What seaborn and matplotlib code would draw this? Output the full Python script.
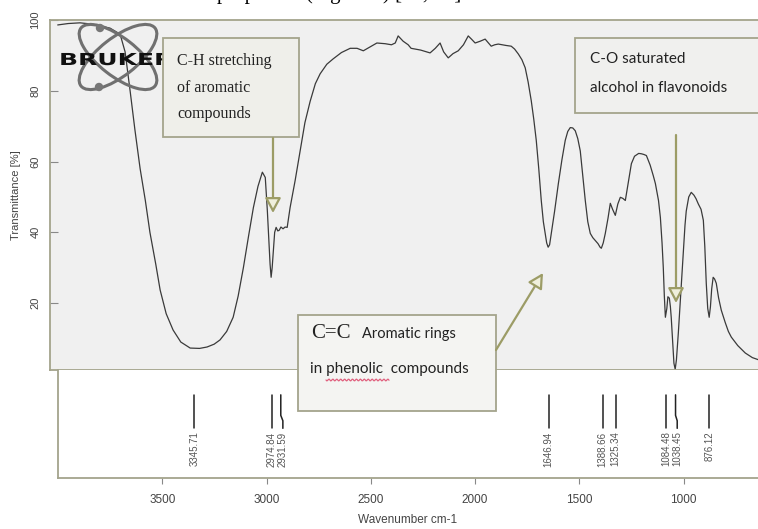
import numpy as np
import pandas as pd
import matplotlib
matplotlib.use('Agg')
import matplotlib.pyplot as plt
import matplotlib.transforms as mtransforms
from matplotlib.patches import Rectangle, Ellipse, Circle, PathPatch
from matplotlib.textpath import TextPath
from matplotlib.font_manager import FontProperties
import seaborn as sns

# FTIR spectrum (wavenumber cm-1, transmittance %)
wavenumber = [4000, 3950, 3893, 3830, 3749, 3701, 3677, 3653, 3630, 3605, 3580, 3558, 3530, 3509,
              3480, 3447, 3410, 3365, 3320, 3284, 3250, 3222, 3190, 3159, 3135, 3110, 3085, 3062,
              3040, 3019, 3005, 2995, 2990, 2982, 2977, 2972, 2967, 2960, 2953, 2945, 2938, 2930,
              2920, 2910, 2900, 2886, 2862, 2838, 2815, 2790, 2765, 2742, 2710, 2680, 2640, 2598,
              2565, 2535, 2500, 2470, 2430, 2400, 2382, 2368, 2344, 2320, 2306, 2260, 2215, 2190,
              2167, 2150, 2128, 2105, 2080, 2055, 2032, 2015, 1999, 1975, 1951, 1935, 1922, 1905,
              1888, 1850, 1826, 1810, 1792, 1775, 1759, 1745, 1730, 1718, 1706, 1694, 1682, 1672,
              1663, 1656, 1649, 1642, 1634, 1618, 1600, 1583, 1567, 1555, 1543, 1531, 1519, 1507,
              1495, 1483, 1471, 1459, 1447, 1435, 1423, 1410, 1400, 1394, 1385, 1375, 1362, 1351,
              1340, 1327, 1315, 1303, 1291, 1279, 1265, 1250, 1235, 1215, 1202, 1190, 1178, 1160,
              1145, 1135, 1120, 1111, 1103, 1097, 1092, 1087, 1080, 1075, 1068, 1063, 1059, 1052,
              1046, 1040, 1034, 1025, 1013, 1001, 993, 987, 975, 963, 950, 940, 929, 916, 905, 898,
              891, 884, 877, 871, 865, 858, 851, 843, 832, 819, 800, 785, 771, 740, 704, 670, 641]
transmittance = [98.6, 99.0, 99.2, 98.8, 97.7, 96.0, 91.0, 80.0, 69.0, 58.0, 49.0, 40.0, 31.0, 23.7,
                 17.0, 12.4, 9.0, 7.3, 7.2, 7.6, 8.4, 9.6, 12.0, 16.0, 22.0, 30.0, 39.0, 47.0,
                 53.0, 57.0, 55.5, 46.0, 40.0, 31.0, 27.3, 30.0, 34.0, 40.0, 41.4, 40.4, 40.6, 41.5,
                 41.0, 41.5, 41.4, 47.0, 54.6, 63.0, 71.0, 77.0, 82.0, 84.8, 87.5, 89.0, 90.8, 92.0,
                 92.0, 91.3, 92.5, 93.5, 93.3, 93.0, 93.5, 95.5, 94.0, 93.0, 92.0, 91.5, 90.7, 92.0,
                 93.5, 91.0, 89.3, 90.5, 91.3, 93.0, 95.5, 94.5, 93.5, 94.0, 94.6, 93.5, 92.6, 93.0,
                 93.2, 92.8, 92.6, 91.8, 90.4, 88.8, 86.5, 82.5, 77.2, 72.0, 66.0, 58.0, 49.0, 43.0,
                 39.7, 37.0, 35.8, 36.5, 39.7, 46.0, 53.8, 60.5, 66.0, 68.5, 69.6, 69.5, 68.7, 66.5,
                 63.0, 56.0, 49.0, 43.0, 39.7, 38.5, 37.7, 36.8, 35.8, 35.5, 37.0, 39.7, 44.0, 48.2,
                 46.5, 44.8, 48.0, 49.9, 49.6, 49.0, 54.0, 59.4, 61.5, 62.3, 62.2, 62.0, 61.7, 59.0,
                 56.0, 53.8, 49.0, 44.2, 37.0, 30.0, 22.0, 16.0, 18.5, 21.8, 21.4, 19.0, 16.0, 9.0,
                 3.0, 1.3, 4.0, 11.5, 23.0, 35.0, 42.0, 46.0, 50.0, 51.3, 50.5, 49.5, 48.0, 46.5, 43.4, 36.0,
                 25.6, 18.5, 16.0, 19.0, 24.0, 27.3, 26.8, 25.6, 21.5, 18.0, 14.5, 12.0, 10.4, 8.0, 5.9, 4.6, 4.0]

peak_positions = [3345.71, 2974.84, 2931.59, 1646.94, 1388.66, 1325.34, 1084.48, 1038.45, 876.12]
peak_labels = ['3345.71', '2974.84', '2931.59', '1646.94', '1388.66', '1325.34', '1084.48', '1038.45', '876.12']
peak_shift = [0, 0, -10, 0, 0, 0, 0, -8, 0]   # label offsets where labels crowd

y_ticks = [20, 40, 60, 80, 100]
x_ticks = [3500, 3000, 2500, 2000, 1500, 1000]

df = pd.DataFrame({'wn': wavenumber, 'T': transmittance})

sns.set_style('white')
plt.rcParams['font.family'] = ['Liberation Sans', 'DejaVu Sans']

W, H = 758, 529
fig = plt.figure(figsize=(W / 100, H / 100), dpi=100)
frame_col = '#a4a48c'
tick_col = '#444444'

# spectrum panel
ax = fig.add_axes([50 / W, 1 - 370 / H, (W - 50) / W, 350 / H])
ax.set_facecolor('#f0f0f0')
sns.lineplot(data=df, x='wn', y='T', ax=ax, color='#3a3a3a', linewidth=0.9, sort=False)
ax.set_xlim(4037, 643)
ax.set_ylim(1.1, 100)
ax.set_xticks([])
ax.set_yticks(y_ticks)
ax.set_yticklabels([str(t) for t in y_ticks], rotation=90, va='center')
ax.tick_params(axis='y', direction='in', length=6, width=0.8, color='#888888',
               pad=7, labelsize=8, labelcolor=tick_col, left=True)
ax.set_xlabel('')
ax.set_ylabel('Transmittance [%]', fontsize=8, color=tick_col, labelpad=7)
for side in ['left', 'top', 'bottom']:
    ax.spines[side].set_color(frame_col)
    ax.spines[side].set_linewidth(1.3)
ax.spines['right'].set_visible(False)

# peak table panel
bx = fig.add_axes([58 / W, 1 - 478 / H, (W - 58) / W, 108 / H])
bx.set_facecolor('white')
bx.set_xlim(4000, 643)
bx.set_ylim(0, 1)
for p, lab, s in zip(peak_positions, peak_labels, peak_shift):
    if s == 0:
        bx.plot([p, p], [0.77, 0.46], color='#222222', lw=1.1)
    else:
        bx.plot([p, p, p + s, p + s], [0.77, 0.58, 0.53, 0.46], color='#222222', lw=1.1)
    bx.text(p + s, 0.43, lab, rotation=90, ha='center', va='top', fontsize=7, color='#555555')
bx.set_yticks([])
bx.set_xticks(x_ticks)
bx.set_xticklabels([str(t) for t in x_ticks])
bx.tick_params(axis='x', direction='out', length=4.5, width=0.8, color='#888888',
               pad=7, labelsize=8.5, labelcolor=tick_col, bottom=True)
bx.set_xlabel('Wavenumber cm-1', fontsize=8.5, color=tick_col, labelpad=6)
for side in ['left', 'bottom']:
    bx.spines[side].set_color(frame_col)
    bx.spines[side].set_linewidth(1.3)
bx.spines['top'].set_visible(False)
bx.spines['right'].set_visible(False)

# overlay in pixel coordinates for logo, callout boxes and arrows
ov = fig.add_axes([0, 0, 1, 1], zorder=10)
ov.set_xlim(0, W)
ov.set_ylim(H, 0)
ov.axis('off')
ov.patch.set_alpha(0)

# cropped document text at the very top (only its descenders show)
fig.text(217 / W, 1 + 1.5 / H, 'properties (Figure 6) [31, 32]', family='Liberation Serif',
         fontsize=15, va='baseline', color='black')

# Bruker logo
for ang in (38, -38):
    ov.add_patch(Ellipse((118, 57), 94, 38, angle=ang, fill=False, ec='#707070', lw=2.2, zorder=3))
ov.add_patch(Circle((100, 28), 3.5, color='#777777', zorder=3))
ov.add_patch(Circle((99, 87), 3.5, color='#777777', zorder=3))
tp = TextPath((0, 0), 'BRUKER', size=10, prop=FontProperties(family='DejaVu Sans', weight='bold'))
tr = mtransforms.Affine2D().scale(2.5, -1.65).translate(59, 65) + ov.transData
ov.add_patch(PathPatch(tp, transform=tr, color='#111111', lw=0, zorder=4))

arrow_kw = dict(arrowstyle='-|>,head_length=0.75,head_width=0.4', mutation_scale=12,
                lw=1.6, ec='#9c9c66', fc='#efefdc', shrinkA=0, shrinkB=0)

# C-H box
ov.add_patch(Rectangle((163, 38), 136, 99, fc='#efefea', ec=frame_col, lw=1.3, zorder=5))
for i, line in enumerate(['C-H stretching', 'of aromatic', 'compounds']):
    ov.text(177, 61 + 26.5 * i, line, family='Liberation Serif', fontsize=11.5,
            va='center', ha='left', color='#222222', zorder=6)
ov.annotate('', xy=(273, 213), xytext=(273, 138), arrowprops=arrow_kw, zorder=6)

# C-O box
ov.add_patch(Rectangle((575, 38), 190, 75, fc='#f0f0ee', ec=frame_col, lw=1.3, zorder=5))
ov.text(590, 59, 'C-O saturated', family='Lato', fontsize=11, va='center', color='#222222', zorder=6)
ov.text(590, 88, 'alcohol in flavonoids', family='Lato', fontsize=11, va='center', color='#222222', zorder=6)
ov.annotate('', xy=(676, 303), xytext=(676, 135), arrowprops=arrow_kw, zorder=6)

# C=C box
ov.add_patch(Rectangle((298, 315), 198, 96, fc='#f4f4f2', ec=frame_col, lw=1.3, zorder=5))
ov.text(311, 333, 'C=C', family='Liberation Serif', fontsize=15, va='center', color='#222222', zorder=6)
ov.text(362, 334, 'Aromatic rings', family='Lato', fontsize=10.5, va='center', color='#222222', zorder=6)
ov.text(310, 369, 'in phenolic  compounds', family='Lato', fontsize=11, va='center', color='#222222', zorder=6)
wx = np.linspace(326, 389, 80)
ov.plot(wx, 380 + 0.9 * np.sin((wx - 326) * 1.6), color='#e0607e', lw=0.9, zorder=6)
ov.annotate('', xy=(543, 273), xytext=(496, 350), arrowprops=arrow_kw, zorder=6)

fig.savefig('out.png', dpi=100)
